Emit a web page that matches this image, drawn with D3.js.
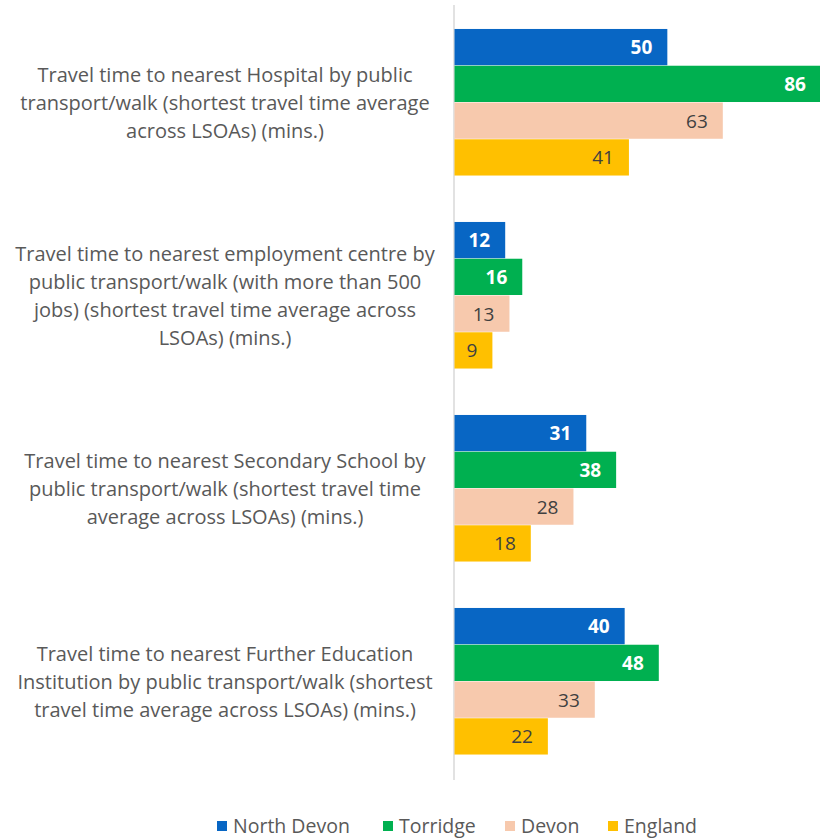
<!DOCTYPE html>
<html>
<head>
<meta charset="utf-8">
<script src="https://cdn.jsdelivr.net/npm/d3@7/dist/d3.min.js"></script>
<style>
  html, body { margin: 0; padding: 0; background: #ffffff; }
  svg { display: block; font-family: "Open Sans", "Noto Sans", sans-serif; }
</style>
</head>
<body>
<svg id="chart" width="820" height="839"></svg>
<script>
// Category labels, one entry per wrapped line
const categories = [
  ["Travel time to nearest Hospital by public",
   "transport/walk (shortest travel time average",
   "across LSOAs) (mins.)"],
  ["Travel time to nearest employment centre by",
   "public transport/walk (with more than 500",
   "jobs) (shortest travel time average across",
   "LSOAs) (mins.)"],
  ["Travel time to nearest Secondary School by",
   "public transport/walk (shortest travel time",
   "average across LSOAs) (mins.)"],
  ["Travel time to nearest Further Education",
   "Institution by public transport/walk (shortest",
   "travel time average across LSOAs) (mins.)"]
];

const seriesNames = ["North Devon", "Torridge", "Devon", "England"];
const northDevon = [50, 12, 31, 40];
const torridge   = [86, 16, 38, 48];
const devon      = [63, 13, 28, 33];
const england    = [41, 9, 18, 22];

const seriesValues = [northDevon, torridge, devon, england];
const seriesColors = ["#0866c4", "#00b050", "#f7c9ad", "#ffc000"];
const labelColors  = ["#ffffff", "#ffffff", "#404040", "#404040"];
const labelWeights = ["bold", "bold", "normal", "normal"];

const svg = d3.select("#chart");
const catKeys = categories.map((c, i) => "c" + i);

const x = d3.scaleLinear().domain([0, 90]).range([454, 838]);
const y = d3.scaleBand().domain(catKeys).range([6, 778])
  .paddingInner(0.238).paddingOuter(0.119);
const ySub = d3.scaleBand().domain(seriesNames).range([0, y.bandwidth()]);

// vertical axis line
svg.append("line")
  .attr("x1", x(0)).attr("x2", x(0))
  .attr("y1", 5).attr("y2", 780)
  .attr("stroke", "#d9d9d9").attr("stroke-width", 1.5);

// bars and value labels
const rows = [];
catKeys.forEach((k, ci) => {
  seriesNames.forEach((s, si) => {
    rows.push({ cat: k, series: s, si, value: seriesValues[si][ci] });
  });
});

const g = svg.append("g");
g.selectAll("rect.bar").data(rows).join("rect")
  .attr("class", "bar")
  .attr("x", x(0) + 0.5)
  .attr("y", d => y(d.cat) + ySub(d.series))
  .attr("width", d => x(d.value) - x(0) - 0.5)
  .attr("height", ySub.bandwidth() - 0.5)
  .attr("fill", d => seriesColors[d.si]);

g.selectAll("text.val").data(rows).join("text")
  .attr("class", "val")
  .attr("x", d => x(d.value) - 15)
  .attr("y", d => y(d.cat) + ySub(d.series) + ySub.bandwidth() / 2)
  .attr("dy", "0.36em")
  .attr("text-anchor", "end")
  .attr("font-size", 19)
  .attr("font-weight", d => labelWeights[d.si])
  .attr("fill", d => labelColors[d.si])
  .text(d => d.value);

// category labels
const lineH = 28;
const catG = svg.append("g");
categories.forEach((lines, ci) => {
  const cy = y(catKeys[ci]) + y.bandwidth() / 2;
  const t = catG.append("text")
    .attr("text-anchor", "middle")
    .attr("font-size", 20)
    .attr("fill", "#595959");
  lines.forEach((ln, li) => {
    t.append("tspan")
      .attr("x", 225)
      .attr("y", cy + (li - (lines.length - 1) / 2) * lineH)
      .attr("dy", "0.36em")
      .text(ln);
  });
});

// legend
const legendX = [217, 383, 505, 608];
const legend = svg.append("g");
seriesNames.forEach((s, i) => {
  legend.append("rect")
    .attr("x", legendX[i]).attr("y", 821)
    .attr("width", 10).attr("height", 10)
    .attr("fill", seriesColors[i]);
  legend.append("text")
    .attr("x", legendX[i] + 16).attr("y", 826)
    .attr("dy", "0.36em")
    .attr("font-size", 19.5)
    .attr("fill", "#595959")
    .text(s);
});
</script>
</body>
</html>
